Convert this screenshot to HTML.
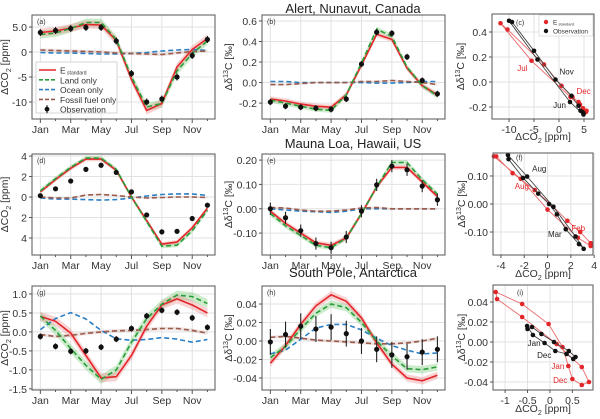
<!DOCTYPE html>
<html><head><meta charset="utf-8">
<style>
html,body{margin:0;padding:0;background:#fff;}
svg{display:block;font-family:"Liberation Sans",sans-serif;}
</style></head>
<body>
<svg id="fig" width="600" height="419" viewBox="0 0 600 419"></svg>
<script>
const months=['Jan','Feb','Mar','Apr','May','Jun','Jul','Aug','Sep','Oct','Nov','Dec'];
const monthTickIdx=[0,2,4,6,8,10];
// Panel a: Alert dCO2
const aObs=[3.9,4.3,4.7,4.9,4.9,2.2,-4.3,-10.0,-9.4,-5.0,-0.7,2.5];
const aStd=[3.9,4.2,4.8,5.5,5.4,2.3,-5.5,-11.7,-10.3,-3.0,0.5,2.7];
const aLand=[3.5,3.8,4.7,5.9,5.9,2.5,-5.0,-11.0,-10.3,-3.8,-0.3,2.2];
const aOcean=[-0.1,-0.2,-0.2,-0.3,-0.4,-0.4,-0.3,-0.1,0.2,0.4,0.5,0.3];
const aFossil=[0.4,0.3,0.2,0.1,0.0,-0.2,-0.3,-0.4,-0.5,-0.2,0.1,0.2];
const aTicks=[5,0,-5,-10];
const aTickLabels=['5.0','0','-5','-10'];
// Panel b: Alert d13C
const bObs=[-0.19,-0.23,-0.24,-0.25,-0.26,-0.16,0.18,0.49,0.48,0.25,0.02,-0.11];
const bStd=[-0.16,-0.18,-0.21,-0.23,-0.24,-0.12,0.17,0.47,0.42,0.14,-0.03,-0.12];
const bLand=[-0.17,-0.2,-0.23,-0.26,-0.27,-0.12,0.19,0.52,0.45,0.15,-0.03,-0.13];
const bOcean=[0.01,0.01,0.0,0.0,0.0,0.0,0.0,-0.005,-0.005,0.0,0.01,0.01];
const bFossil=[-0.02,-0.02,-0.01,0.0,0.0,0.0,0.01,0.01,0.02,0.01,0.0,-0.02];
const bTicks=[0.6,0.4,0.2,0,-0.2];
const bTickLabels=['0.6','0.4','0.2','0.0','-0.2'];
// Panel d: Mauna Loa dCO2
const dObs=[0.13,0.8,1.56,2.7,3.1,2.4,0.5,-1.75,-3.4,-3.35,-2.1,-0.8];
const dStd=[0.5,1.7,2.8,3.7,3.7,2.6,0.0,-2.3,-4.6,-4.4,-3.0,-1.1];
const dLand=[0.6,1.8,2.9,3.8,3.8,2.7,0.0,-2.4,-4.8,-4.7,-3.3,-1.3];
const dOcean=[-0.1,-0.2,-0.2,-0.25,-0.3,-0.25,-0.1,0.1,0.25,0.3,0.3,0.15];
const dFossil=[0.0,-0.1,-0.1,0.2,0.25,0.15,0.0,-0.1,-0.05,0.0,0.0,-0.05];
const dTicks=[4,2,0,-2,-4];
const dTickLabels=['4','2','0','2','4'];
// Panel e: Mauna Loa d13C
const eObs=[0.0,-0.037,-0.09,-0.143,-0.16,-0.116,-0.01,0.098,0.175,0.16,0.093,0.037];
const eStd=[-0.01,-0.06,-0.10,-0.14,-0.15,-0.12,-0.02,0.09,0.17,0.17,0.11,0.05];
const eLand=[-0.02,-0.07,-0.11,-0.15,-0.16,-0.12,-0.02,0.09,0.19,0.19,0.12,0.06];
const eOcean=[0.0,-0.005,-0.01,-0.012,-0.015,-0.01,0.0,0.0,0.0,0.0,0.0,0.0];
const eFossil=[0.005,0.003,-0.005,-0.01,-0.01,-0.005,0.003,0.005,0.0,0.0,0.0,0.0];
const eTicks=[0.2,0.1,0,-0.1];
const eTickLabels=['0.20','0.10','0.00','-0.10'];
// Panel g: South Pole dCO2
const gObs=[-0.12,-0.38,-0.51,-0.5,-0.4,-0.19,0.09,0.42,0.57,0.52,0.37,0.12];
const gStd=[0.41,0.28,-0.03,-0.62,-1.21,-1.18,-0.62,0.15,0.71,0.87,0.71,0.5];
const gLand=[0.42,0.04,-0.44,-0.88,-1.25,-1.0,-0.27,0.35,0.73,0.97,0.93,0.75];
const gOcean=[0.06,0.35,0.51,0.34,0.04,-0.18,-0.22,-0.2,-0.15,-0.19,-0.27,-0.2];
const gFossil=[-0.07,-0.12,-0.09,-0.04,0.0,0.03,0.04,0.06,0.09,0.09,0.04,-0.03];
const gTicks=[1,0.5,0,-0.5,-1,-1.5];
const gTickLabels=['1.0','0.5','0.0','-0.5','-1.0','-1.5'];
// Panel h: South Pole d13C
const hObs=[-0.001,0.007,0.016,0.013,0.015,0.008,0.0,-0.009,-0.015,-0.017,-0.012,-0.009];
const hStd=[-0.024,-0.005,0.018,0.038,0.05,0.043,0.025,-0.002,-0.025,-0.04,-0.043,-0.037];
const hLand=[-0.018,-0.006,0.013,0.03,0.04,0.036,0.02,0.0,-0.016,-0.03,-0.031,-0.028];
const hOcean=[-0.014,-0.01,0.002,0.014,0.018,0.018,0.012,0.003,-0.005,-0.01,-0.014,-0.013];
const hFossil=[0.004,0.005,0.003,0.001,0.0,-0.001,-0.002,-0.003,-0.003,-0.002,0.0,0.003];
const hTicks=[0.04,0.02,0,-0.02,-0.04];
const hTickLabels=['0.04','0.02','0.00','-0.02','-0.04'];
// scatter tick arrays
const cXTicks=[-10,-5,0,5];
const cXTickLabels=['-10','-5','0','5'];
const cYTicks=[0.4,0.2,0,-0.2];
const cYTickLabels=['0.4','0.2','0.0','-0.2'];
const fXTicks=[-4,-2,0,2,4];
const fXTickLabels=['-4','-2','0','2','4'];
const fYTicks=[0.1,0,-0.1];
const fYTickLabels=['0.10','0.00','-0.10'];
const iXTicks=[-1,-0.5,0,0.5];
const iXTickLabels=['-1','-0.5','0','0.5'];
const iYTicks=[0.04,0.02,0,-0.02,-0.04];
const iYTickLabels=['0.04','0.02','0.00','-0.02','-0.04'];

const NS='http://www.w3.org/2000/svg';
const svg=document.getElementById('fig');
function mk(tag,parent,attrs){const e=document.createElementNS(NS,tag);for(const k in attrs)e.setAttribute(k,attrs[k]);parent.appendChild(e);return e;}
const RED='#e3262a',GREEN='#2a9d3a',BLUE='#2b7fc4',BROWN='#9a5a4c';

function txt(parent,x,y,s,opts){
  const t=mk('text',parent,Object.assign({x:x,y:y,'font-size':10.5,fill:'#333'},opts||{}));
  t.textContent=s;return t;
}
function ylabelCO2(parent,x,y){
  const t=mk('text',parent,{x:0,y:0,'font-size':10.5,fill:'#333','text-anchor':'middle',transform:'translate('+x+','+y+') rotate(-90)'});
  t.appendChild(document.createTextNode('ΔCO'));
  const s=mk('tspan',t,{'font-size':7,dy:3});s.textContent='2';
  const r=mk('tspan',t,{dy:-3});r.textContent=' [ppm]';
  return t;
}
function ylabelD13(parent,x,y){
  const t=mk('text',parent,{x:0,y:0,'font-size':10.5,fill:'#333','text-anchor':'middle',transform:'translate('+x+','+y+') rotate(-90)'});
  t.appendChild(document.createTextNode('Δδ'));
  const s=mk('tspan',t,{'font-size':7,dy:-4});s.textContent='13';
  const r=mk('tspan',t,{dy:4});r.textContent='C [‰]';
  return t;
}
function xlabelCO2(parent,x,y){
  const t=mk('text',parent,{x:x,y:y,'font-size':10.5,fill:'#333','text-anchor':'middle'});
  t.appendChild(document.createTextNode('ΔCO'));
  const s=mk('tspan',t,{'font-size':7,dy:3});s.textContent='2';
  const r=mk('tspan',t,{dy:-3});r.textContent=' [ppm]';
  return t;
}
function frame(g,box){
  return mk('rect',g,{x:box.l,y:box.t,width:box.r-box.l,height:box.b-box.t,fill:'none',stroke:'#555','stroke-width':1});
}
function yAxis(g,box,sy,ticks,labels){
  ticks.forEach((v,i)=>{
    const y=sy(v);
    mk('line',g,{x1:box.l,x2:box.r,y1:y,y2:y,stroke:'#e2e2e2','stroke-width':1});
    mk('line',g,{x1:box.l-3,x2:box.l,y1:y,y2:y,stroke:'#555','stroke-width':1});
    const t=txt(g,box.l-5,y+4,labels[i],{'text-anchor':'end'});
    
    
  });
}
function xAxisNum(g,box,sx,ticks,labels){
  ticks.forEach((v,i)=>{
    const x=sx(v);
    mk('line',g,{x1:x,x2:x,y1:box.t,y2:box.b,stroke:'#e2e2e2','stroke-width':1});
    mk('line',g,{x1:x,x2:x,y1:box.b,y2:box.b+3,stroke:'#555','stroke-width':1});
    const t=txt(g,x,box.b+14,labels[i],{'text-anchor':'middle'});
    
    
  });
}
function pathD(xs,ys){return xs.map((x,i)=>(i?'L':'M')+x.toFixed(1)+','+ys[i].toFixed(1)).join(' ');}

function linePanel(cfg){
  const g=mk('g',svg,{});
  
  
  const box=cfg.box,xl=[-0.55,11.5],yl=cfg.ylim;
  const sx=v=>box.l+(v-xl[0])/(xl[1]-xl[0])*(box.r-box.l);
  const sy=v=>box.b-(v-yl[0])/(yl[1]-yl[0])*(box.b-box.t);
  yAxis(g,box,sy,cfg.ticks,cfg.tickLabels);
  months.forEach((m,i)=>{
    const x=sx(i);
    const major=monthTickIdx.indexOf(i)>=0;
    if(major)mk('line',g,{x1:x,x2:x,y1:box.t,y2:box.b,stroke:'#e2e2e2','stroke-width':1});
    mk('line',g,{x1:x,x2:x,y1:box.b,y2:box.b+(major?4:2),stroke:'#555','stroke-width':1});
    if(major){
      const t=txt(g,x,box.b+14,m,{'text-anchor':'middle'});
      
      
    }
  });
  const xs=months.map((m,i)=>sx(i));
  const band=(arr,w,col,name)=>{
    const up=arr.map(v=>sy(v+w)),dn=arr.map(v=>sy(v-w));
    const d=pathD(xs,up)+' '+xs.slice().reverse().map((x,i)=>'L'+x.toFixed(1)+','+dn[dn.length-1-i].toFixed(1)).join(' ')+' Z';
    const p=mk('path',g,{d:d,fill:col,stroke:'none'});
    
    
  };
  band(cfg.fossil,cfg.band*0.4,'rgba(160,100,90,0.18)','fossil-band');
  band(cfg.land,cfg.band,'rgba(110,200,110,0.35)','land-band');
  band(cfg.std,cfg.band,'rgba(235,130,130,0.35)','standard-band');
  const line=(arr,col,dash,name)=>{
    const p=mk('path',g,{d:pathD(xs,arr.map(sy)),fill:'none',stroke:col,'stroke-width':1.6,'stroke-dasharray':dash||'none'});
    
    
  };
  line(cfg.ocean,BLUE,'5,3','ocean-only-line');
  line(cfg.fossil,BROWN,'5,3','fossil-fuel-only-line');
  line(cfg.std,RED,null,'standard-line');
  line(cfg.land,GREEN,'5,3','land-only-line');
  cfg.obs.forEach((v,i)=>{
    const x=sx(i);
    const eb=mk('line',g,{x1:x,x2:x,y1:sy(v+cfg.err),y2:sy(v-cfg.err),stroke:'#222','stroke-width':1.1});
    
    
    const c=mk('circle',g,{cx:x,cy:sy(v),r:2.6,fill:'#111'});
    
    
  });
  frame(g,box);
  const pl=txt(g,box.l+5,box.t+9,cfg.label,{'font-size':7});
  
  
  const yl2=cfg.isCO2?ylabelCO2(g,box.l-24,(box.t+box.b)/2):ylabelD13(g,box.l-30,(box.t+box.b)/2);
  
  
  return g;
}

function scatterPanel(cfg){
  const g=mk('g',svg,{});
  
  
  const box=cfg.box,xl=cfg.xlim,yl=cfg.ylim;
  const sx=v=>box.l+(v-xl[0])/(xl[1]-xl[0])*(box.r-box.l);
  const sy=v=>box.b-(v-yl[0])/(yl[1]-yl[0])*(box.b-box.t);
  yAxis(g,box,sy,cfg.yTicks,cfg.yTickLabels);
  xAxisNum(g,box,sx,cfg.xTicks,cfg.xTickLabels);
  const series=(xa,ya,col,lineCol,name)=>{
    const xs=xa.map(sx),ys=ya.map(sy);
    const p=mk('path',g,{d:pathD(xs,ys)+' Z',fill:'none',stroke:lineCol,'stroke-width':0.9});
    
    
    xs.forEach((x,i)=>{
      const c=mk('circle',g,{cx:x,cy:ys[i],r:2.3,fill:col});
      
      
    });
  };
  series(cfg.stdX,cfg.stdY,RED,'#ea6a6a','standard');
  series(cfg.obsX,cfg.obsY,'#111','#444','observation');
  cfg.labels.forEach(L=>{
    const src=L.obs?[cfg.obsX,cfg.obsY]:[cfg.stdX,cfg.stdY];
    const i=months.indexOf(L.m);
    const t=txt(g,sx(src[0][i])+L.dx,sy(src[1][i])+L.dy,L.m,{'font-size':8,fill:L.obs?'#222':RED,'text-anchor':L.anchor||'start'});
    
    
  });
  frame(g,box);
  const pl=txt(g,cfg.pl[0],cfg.pl[1],cfg.label,{'font-size':7});
  
  
  const ylab=ylabelD13(g,box.l-28,(box.t+box.b)/2);
  
  
  const xlab=xlabelCO2(g,(box.l+box.r)/2,cfg.xlabY);
  
  
  return g;
}

linePanel({name:'panel-a-alert-co2',box:{l:32,t:15,r:215,b:119},ylim:[-13.4,7.4],ticks:aTicks,tickLabels:aTickLabels,obs:aObs,std:aStd,land:aLand,ocean:aOcean,fossil:aFossil,err:0.7,band:0.8,label:'(a)',isCO2:true});
linePanel({name:'panel-b-alert-d13c',box:{l:262,t:15,r:445,b:119},ylim:[-0.355,0.658],ticks:bTicks,tickLabels:bTickLabels,obs:bObs,std:bStd,land:bLand,ocean:bOcean,fossil:bFossil,err:0.03,band:0.025,label:'(b)',isCO2:false});
linePanel({name:'panel-d-maunaloa-co2',box:{l:32,t:154,r:215,b:255},ylim:[-5.66,4.2],ticks:dTicks,tickLabels:dTickLabels,obs:dObs,std:dStd,land:dLand,ocean:dOcean,fossil:dFossil,err:0.15,band:0.2,label:'(d)',isCO2:true});
linePanel({name:'panel-e-maunaloa-d13c',box:{l:262,t:154,r:445,b:255},ylim:[-0.19,0.225],ticks:eTicks,tickLabels:eTickLabels,obs:eObs,std:eStd,land:eLand,ocean:eOcean,fossil:eFossil,err:0.025,band:0.01,label:'(e)',isCO2:false});
linePanel({name:'panel-g-southpole-co2',box:{l:32,t:286,r:215,b:390},ylim:[-1.53,1.21],ticks:gTicks,tickLabels:gTickLabels,obs:gObs,std:gStd,land:gLand,ocean:gOcean,fossil:gFossil,err:0.08,band:0.12,label:'(g)',isCO2:true});
linePanel({name:'panel-h-southpole-d13c',box:{l:262,t:286,r:445,b:390},ylim:[-0.053,0.0595],ticks:hTicks,tickLabels:hTickLabels,obs:hObs,std:hStd,land:hLand,ocean:hOcean,fossil:hFossil,err:0.014,band:0.004,label:'(h)',isCO2:false});

scatterPanel({name:'panel-c-alert-scatter',box:{l:492,t:14,r:594,b:119},xlim:[-13.4,7],ylim:[-0.296,0.544],xTicks:cXTicks,xTickLabels:cXTickLabels,yTicks:cYTicks,yTickLabels:cYTickLabels,obsX:aObs,obsY:bObs,stdX:aStd,stdY:bStd,label:'(c)',pl:[516,25],xlabY:140,
  labels:[{m:'Jul',obs:false,dx:-4,dy:10,anchor:'end'},{m:'Dec',obs:false,dx:4,dy:-3},{m:'Nov',obs:true,dx:4,dy:-5},{m:'Jun',obs:true,dx:-4,dy:6,anchor:'end'}]});
scatterPanel({name:'panel-f-maunaloa-scatter',box:{l:493,t:153,r:593,b:255},xlim:[-4.68,3.9],ylim:[-0.182,0.182],xTicks:fXTicks,xTickLabels:fXTickLabels,yTicks:fYTicks,yTickLabels:fYTickLabels,obsX:dObs,obsY:eObs,stdX:dStd,stdY:eStd,label:'(f)',pl:[516,160],xlabY:277,
  labels:[{m:'Aug',obs:true,dx:5,dy:-5},{m:'Aug',obs:false,dx:-6,dy:10},{m:'Feb',obs:false,dx:4,dy:10},{m:'Mar',obs:true,dx:-4,dy:8,anchor:'end'}]});
scatterPanel({name:'panel-i-southpole-scatter',box:{l:493,t:285,r:593,b:390},xlim:[-1.27,0.96],ylim:[-0.048,0.057],xTicks:iXTicks,xTickLabels:iXTickLabels,yTicks:iYTicks,yTickLabels:iYTickLabels,obsX:gObs,obsY:hObs,stdX:gStd,stdY:hStd,label:'(i)',pl:[517,295],xlabY:412,
  labels:[{m:'Jan',obs:true,dx:-4,dy:3,anchor:'end'},{m:'Dec',obs:true,dx:-4,dy:7,anchor:'end'},{m:'Jan',obs:false,dx:-4,dy:3,anchor:'end'},{m:'Dec',obs:false,dx:-5,dy:4,anchor:'end'}]});

[['Alert, Nunavut, Canada',13],['Mauna Loa, Hawaii, US',148],['South Pole, Antarctica',277]].forEach(a=>{
  const t=txt(svg,353,a[1],a[0],{'font-size':13,'text-anchor':'middle',fill:'#222'});
  
  
});

const lg=mk('g',svg,{});


mk('rect',lg,{x:36,y:62,width:81,height:51,fill:'#fff',stroke:'#ccc','stroke-width':0.8});
const legItems=[['E',RED,null],['Land only',GREEN,'4,2'],['Ocean only',BLUE,'4,2'],['Fossil fuel only',BROWN,'4,2'],['Observation','#111','obs']];
legItems.forEach((it,i)=>{
  const y=70+i*9.8;
  const e=mk('g',lg,{});
  
  
  if(it[2]==='obs'){
    mk('line',e,{x1:47,x2:47,y1:y-4,y2:y+4,stroke:'#111','stroke-width':1.1});
    mk('circle',e,{cx:47,cy:y,r:2.4,fill:'#111'});
  }else{
    mk('line',e,{x1:39,x2:56,y1:y,y2:y,stroke:it[1],'stroke-width':1.6,'stroke-dasharray':it[2]||'none'});
  }
  const t=txt(e,60,y+3.5,it[0],{'font-size':8.5});
  if(i===0){const s=mk('tspan',t,{'font-size':5,dy:1});s.textContent=' standard';}
});

const lc=mk('g',svg,{});


mk('rect',lc,{x:539,y:15,width:54,height:21,fill:'#fff',stroke:'#ccc','stroke-width':0.6});
mk('circle',lc,{cx:546,cy:22,r:2.2,fill:RED});
const lt1=txt(lc,553,24.5,'E',{'font-size':6.5});
const lts=mk('tspan',lt1,{'font-size':4,dy:1});lts.textContent=' standard';
mk('circle',lc,{cx:546,cy:31,r:2.2,fill:'#111'});
txt(lc,553,33.5,'Observation',{'font-size':6.5});
</script>
</body></html>
